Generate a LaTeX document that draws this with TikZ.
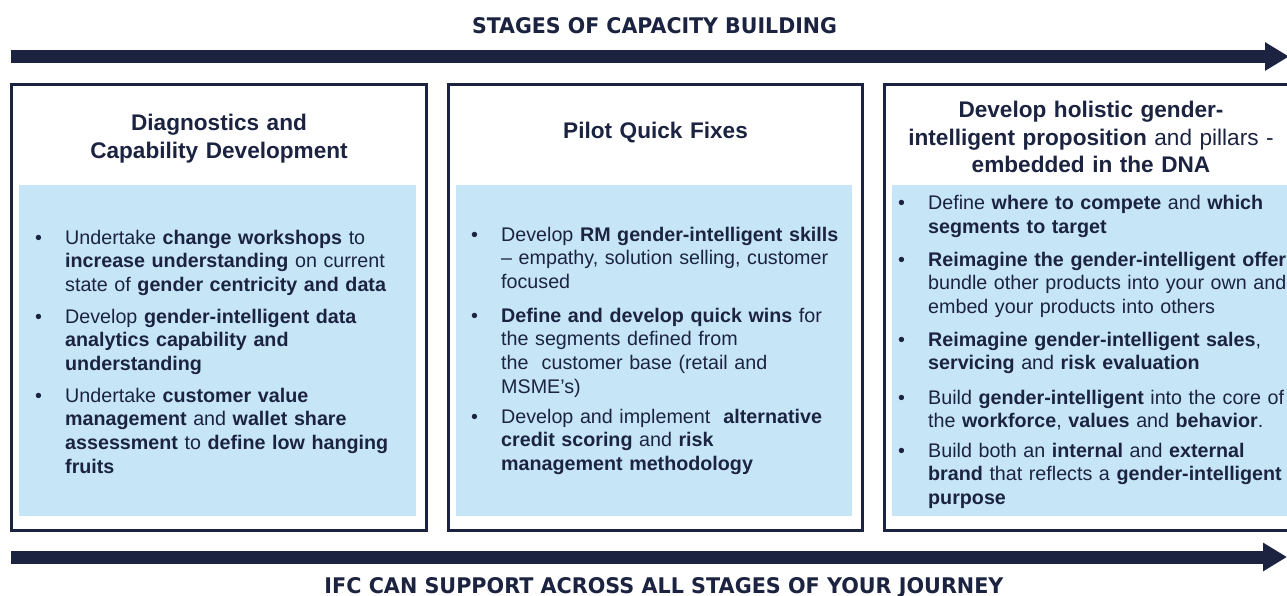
\documentclass[tikz,border=0pt]{standalone}
\usepackage{fontspec}
\setmainfont{Liberation Sans}
\newfontfamily\bannerfont{DejaVu Sans}
\usetikzlibrary{arrows.meta}
\definecolor{navy}{RGB}{27,35,64}
\definecolor{paleblue}{RGB}{198,230,248}
\newcommand{\bulletitem}[1]{\hangindent=30pt\hangafter=1\noindent\makebox[30pt][l]{\textbullet}#1\par}
\tikzset{
  banner/.style={draw=navy, line width=13pt, -{Triangle[length=24pt,width=27pt]}},
  stagebox/.style={draw=navy, line width=3pt},
  bluepanel/.style={fill=paleblue, draw=none},
  boxtitle/.style={text=navy, text width=400pt, align=center, anchor=base, inner sep=0pt, font=\fontsize{22.6}{27.5}\selectfont\bfseries},
  item/.style={text=navy, text width=440pt, align=left, anchor=base west, inner sep=0pt, font=\fontsize{19.7}{23.7}\selectfont},
  bannertext/.style={text=navy, anchor=base, inner sep=0pt, font=\bannerfont\bfseries},
}
\begin{document}
\begin{tikzpicture}[x=1pt,y=-1pt]
\useasboundingbox (0,0) rectangle (1287,596);

% banner titles
\node[bannertext] (toptitle) at (654.5,34) {\resizebox{365pt}{16pt}{STAGES OF CAPACITY BUILDING}};
\node[bannertext] (bottitle) at (664,593) {\resizebox{679pt}{16pt}{IFC CAN SUPPORT ACROSS ALL STAGES OF YOUR JOURNEY}};

% arrows
\coordinate (topstart) at (11,56.5);
\coordinate (topend) at (1289,56.5);
\coordinate (botstart) at (11,557);
\coordinate (botend) at (1287,557);
\draw[banner] (topstart) -- (topend);
\draw[banner] (botstart) -- (botend);

% stage boxes
\draw[stagebox] (11.5,84.5) rectangle (426.5,530.5);
\draw[stagebox] (448.5,84.5) rectangle (862.5,530.5);
\draw[stagebox] (884.5,84.5) rectangle (1300,530.5);

% blue panels
\fill[bluepanel] (19,185) rectangle (416,516);
\fill[bluepanel] (456,185) rectangle (852,516);
\fill[bluepanel] (892,185) rectangle (1300,516);

% box titles
\node[boxtitle] (title1) at (219,131) {Diagnostics and\\Capability Development};
\node[boxtitle] (title2) at (655.5,139) {Pilot Quick Fixes};
\node[boxtitle] (title3) at (1091,118) {Develop holistic gender-\\intelligent proposition {\mdseries and pillars -}\\embedded in the DNA};

% column 1
\node[item] (c1a) at (35,244) {\bulletitem{Undertake \textbf{change workshops} to\newline\textbf{increase understanding} on current\newline state of \textbf{gender centricity and data}}};
\node[item] (c1b) at (35,323) {\bulletitem{Develop \textbf{gender-intelligent data}\newline\textbf{analytics capability and}\newline\textbf{understanding}}};
\node[item] (c1c) at (35,402) {\bulletitem{Undertake \textbf{customer value}\newline\textbf{management} and \textbf{wallet share}\newline\textbf{assessment} to \textbf{define low hanging}\newline\textbf{fruits}}};

% column 2
\node[item] (c2a) at (471,241) {\bulletitem{Develop \textbf{RM gender-intelligent skills}\newline -- empathy, solution selling, customer\newline focused}};
\node[item] (c2b) at (471,322) {\bulletitem{\textbf{Define and develop quick wins} for\newline the segments defined from\newline the\ \ customer base (retail and\newline MSME’s)}};
\node[item] (c2c) at (471,423) {\bulletitem{Develop and implement\ \ \textbf{alternative}\newline\textbf{credit scoring} and \textbf{risk}\newline\textbf{management methodology}}};

% column 3
\node[item] (c3a) at (898,210) {\bulletitem{Define \textbf{where to compete} and \textbf{which}\newline\textbf{segments to target}}};
\node[item] (c3b) at (898,266) {\bulletitem{\textbf{Reimagine the gender-intelligent offer:}\newline bundle other products into your own and\newline embed your products into others}};
\node[item] (c3c) at (898,346) {\bulletitem{\textbf{Reimagine gender-intelligent sales},\newline\textbf{servicing} and \textbf{risk evaluation}}};
\node[item] (c3d) at (898,404) {\bulletitem{Build \textbf{gender-intelligent} into the core of\newline the \textbf{workforce}, \textbf{values} and \textbf{behavior}.}};
\node[item] (c3e) at (898,457) {\bulletitem{Build both an \textbf{internal} and \textbf{external}\newline\textbf{brand} that reflects a \textbf{gender-intelligent}\newline\textbf{purpose}}};
\end{tikzpicture}
\end{document}
